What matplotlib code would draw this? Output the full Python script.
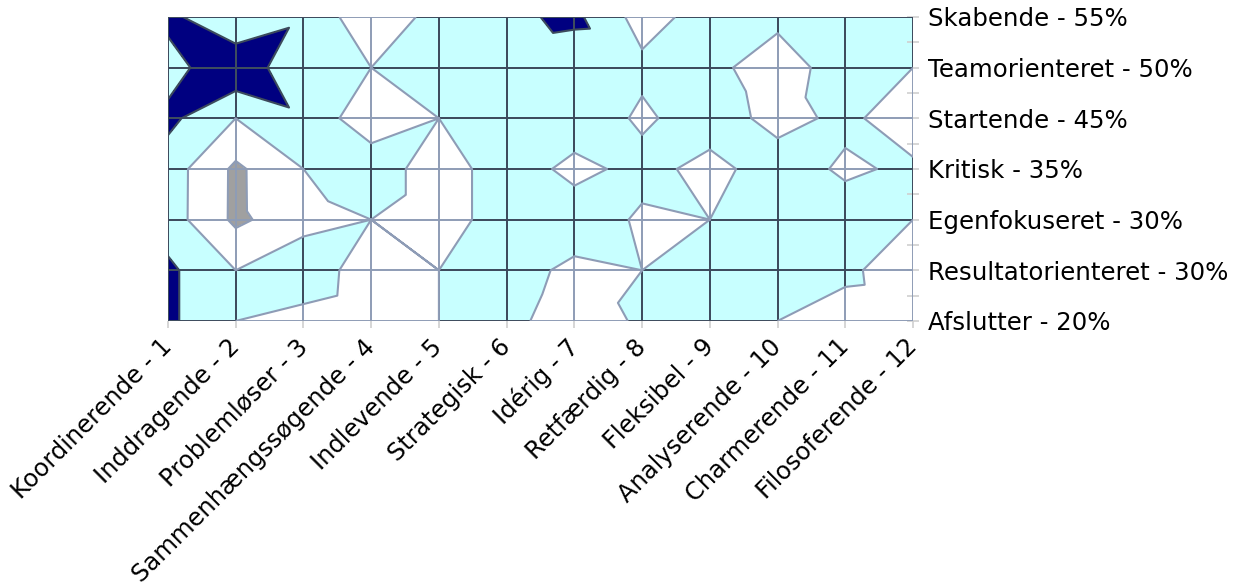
import numpy as np
import matplotlib
matplotlib.use('Agg')
import matplotlib.pyplot as plt
import matplotlib.tri as mtri
from matplotlib.collections import LineCollection

# kategorier (x) og serier (y, nederst -> øverst)
roles = ['Koordinerende - 1', 'Inddragende - 2', 'Problemløser - 3',
         'Sammenhængssøgende - 4', 'Indlevende - 5', 'Strategisk - 6',
         'Idérig - 7', 'Retfærdig - 8', 'Fleksibel - 9', 'Analyserende - 10',
         'Charmerende - 11', 'Filosoferende - 12']
series = ['Afslutter - 20%', 'Resultatorienteret - 30%', 'Egenfokuseret - 30%',
          'Kritisk - 35%', 'Startende - 45%', 'Teamorienteret - 50%',
          'Skabende - 55%']

# værdier pr. serie
afslutter          = [2.2, 1.0, 0.6, 0.2, 1.0, 1.3, 0.44, 1.15, 1.5, 1.0, 0.59, 0.5]
resultatorienteret = [2.2, 1.0, 1.8, 0.29, 1.0, 1.5, 0.73, 1.0, 1.1, 1.5, 1.2, 0.43]
egenfokuseret      = [1.49, -0.2, 0.6, 1.0, 0.33, 1.7, 1.7, 0.825, 1.0, 1.5, 1.56, 1.0]
kritisk            = [1.5, -0.19, 1.0, 1.7, 0.33, 1.7, 0.655, 1.37, 0.645, 1.56, 0.823, 1.2]
startende          = [2.25, 1.0, 1.77, 0.32, 1.0, 1.5, 1.73, 0.82, 1.57, 0.636, 1.25, 0.35]
teamorienteret     = [1.58, 2.85, 1.05, 1.0, 1.5, 1.5, 1.31, 1.23, 1.26, 0.5, 1.52, 1.0]
skabende           = [2.27, 1.05, 1.77, 0.32, 1.35, 1.77, 2.23, 0.59, 1.43, 1.235, 1.5, 1.5]

levels = [-1, 0, 1, 2, 3]
band_colors = ['#a0a0a0', '#ffffff', '#c8ffff', '#000080']
light = '#8e9cb6'
dark = '#3c4a5c'

Z = np.array([afslutter, resultatorienteret, egenfokuseret, kritisk,
              startende, teamorienteret, skabende])
ny, nx = Z.shape

# trekantsnet som i Excel: 4 trekanter pr. celle om et midtpunkt
gx, gy = np.meshgrid(np.arange(nx), np.arange(ny))
px = list(gx.ravel().astype(float))
py = list(gy.ravel().astype(float))
pz = list(Z.ravel())
tris = []
for j in range(ny - 1):
    for i in range(nx - 1):
        bl = j * nx + i
        br = bl + 1
        tl = bl + nx
        tr = tl + 1
        d1 = (Z[j, i] + Z[j + 1, i + 1]) / 2
        d2 = (Z[j, i + 1] + Z[j + 1, i]) / 2
        c = len(px)
        px.append(i + 0.5)
        py.append(j + 0.5)
        pz.append(max(d1, d2))
        tris += [[bl, br, c], [br, tr, c], [tr, tl, c], [tl, bl, c]]
tri = mtri.Triangulation(px, py, tris)
pz = np.array(pz)

fig = plt.figure(figsize=(12.46, 5.87), dpi=100)
ax = fig.add_axes([0.1348, 0.4532, 0.598, 0.5179])

cs = ax.tricontourf(tri, pz, levels=levels, colors=band_colors)

segs = [[(0, j), (nx - 1, j)] for j in range(ny)]
segs += [[(i, 0), (i, ny - 1)] for i in range(nx)]
ax.add_collection(LineCollection(segs, colors=light, linewidths=1.4, zorder=2))
for k in (2, 3):
    lc = LineCollection(segs, colors=dark, linewidths=1.4, zorder=2.1)
    ax.add_collection(lc)
    lc.set_clip_path(cs.get_paths()[k], ax.transData)

ax.tricontour(tri, pz, levels=[0, 1], colors=light, linewidths=1.5, zorder=3)
ax.tricontour(tri, pz, levels=[2], colors=dark, linewidths=1.5, zorder=3)

ax.set_xlim(0, nx - 1)
ax.set_ylim(0, ny - 1)
for s in ax.spines.values():
    s.set_visible(False)

ax.set_xticks(range(nx))
ax.set_xticklabels(roles, rotation=45, ha='right', va='center',
                   rotation_mode='anchor', fontsize=17.4)
ax.tick_params(axis='x', direction='out', length=5, width=1.2,
               color='#d0d0d0', pad=11)

ax.yaxis.tick_right()
ax.set_yticks(range(ny))
ax.set_yticklabels(series, fontsize=17.6)
ax.set_yticks(np.arange(0.5, ny - 1, 1), minor=True)
ax.tick_params(axis='y', which='both', direction='inout', length=9,
               width=1.2, color='#d0d0d0', pad=6)

fig.savefig('out.png', dpi=100)
